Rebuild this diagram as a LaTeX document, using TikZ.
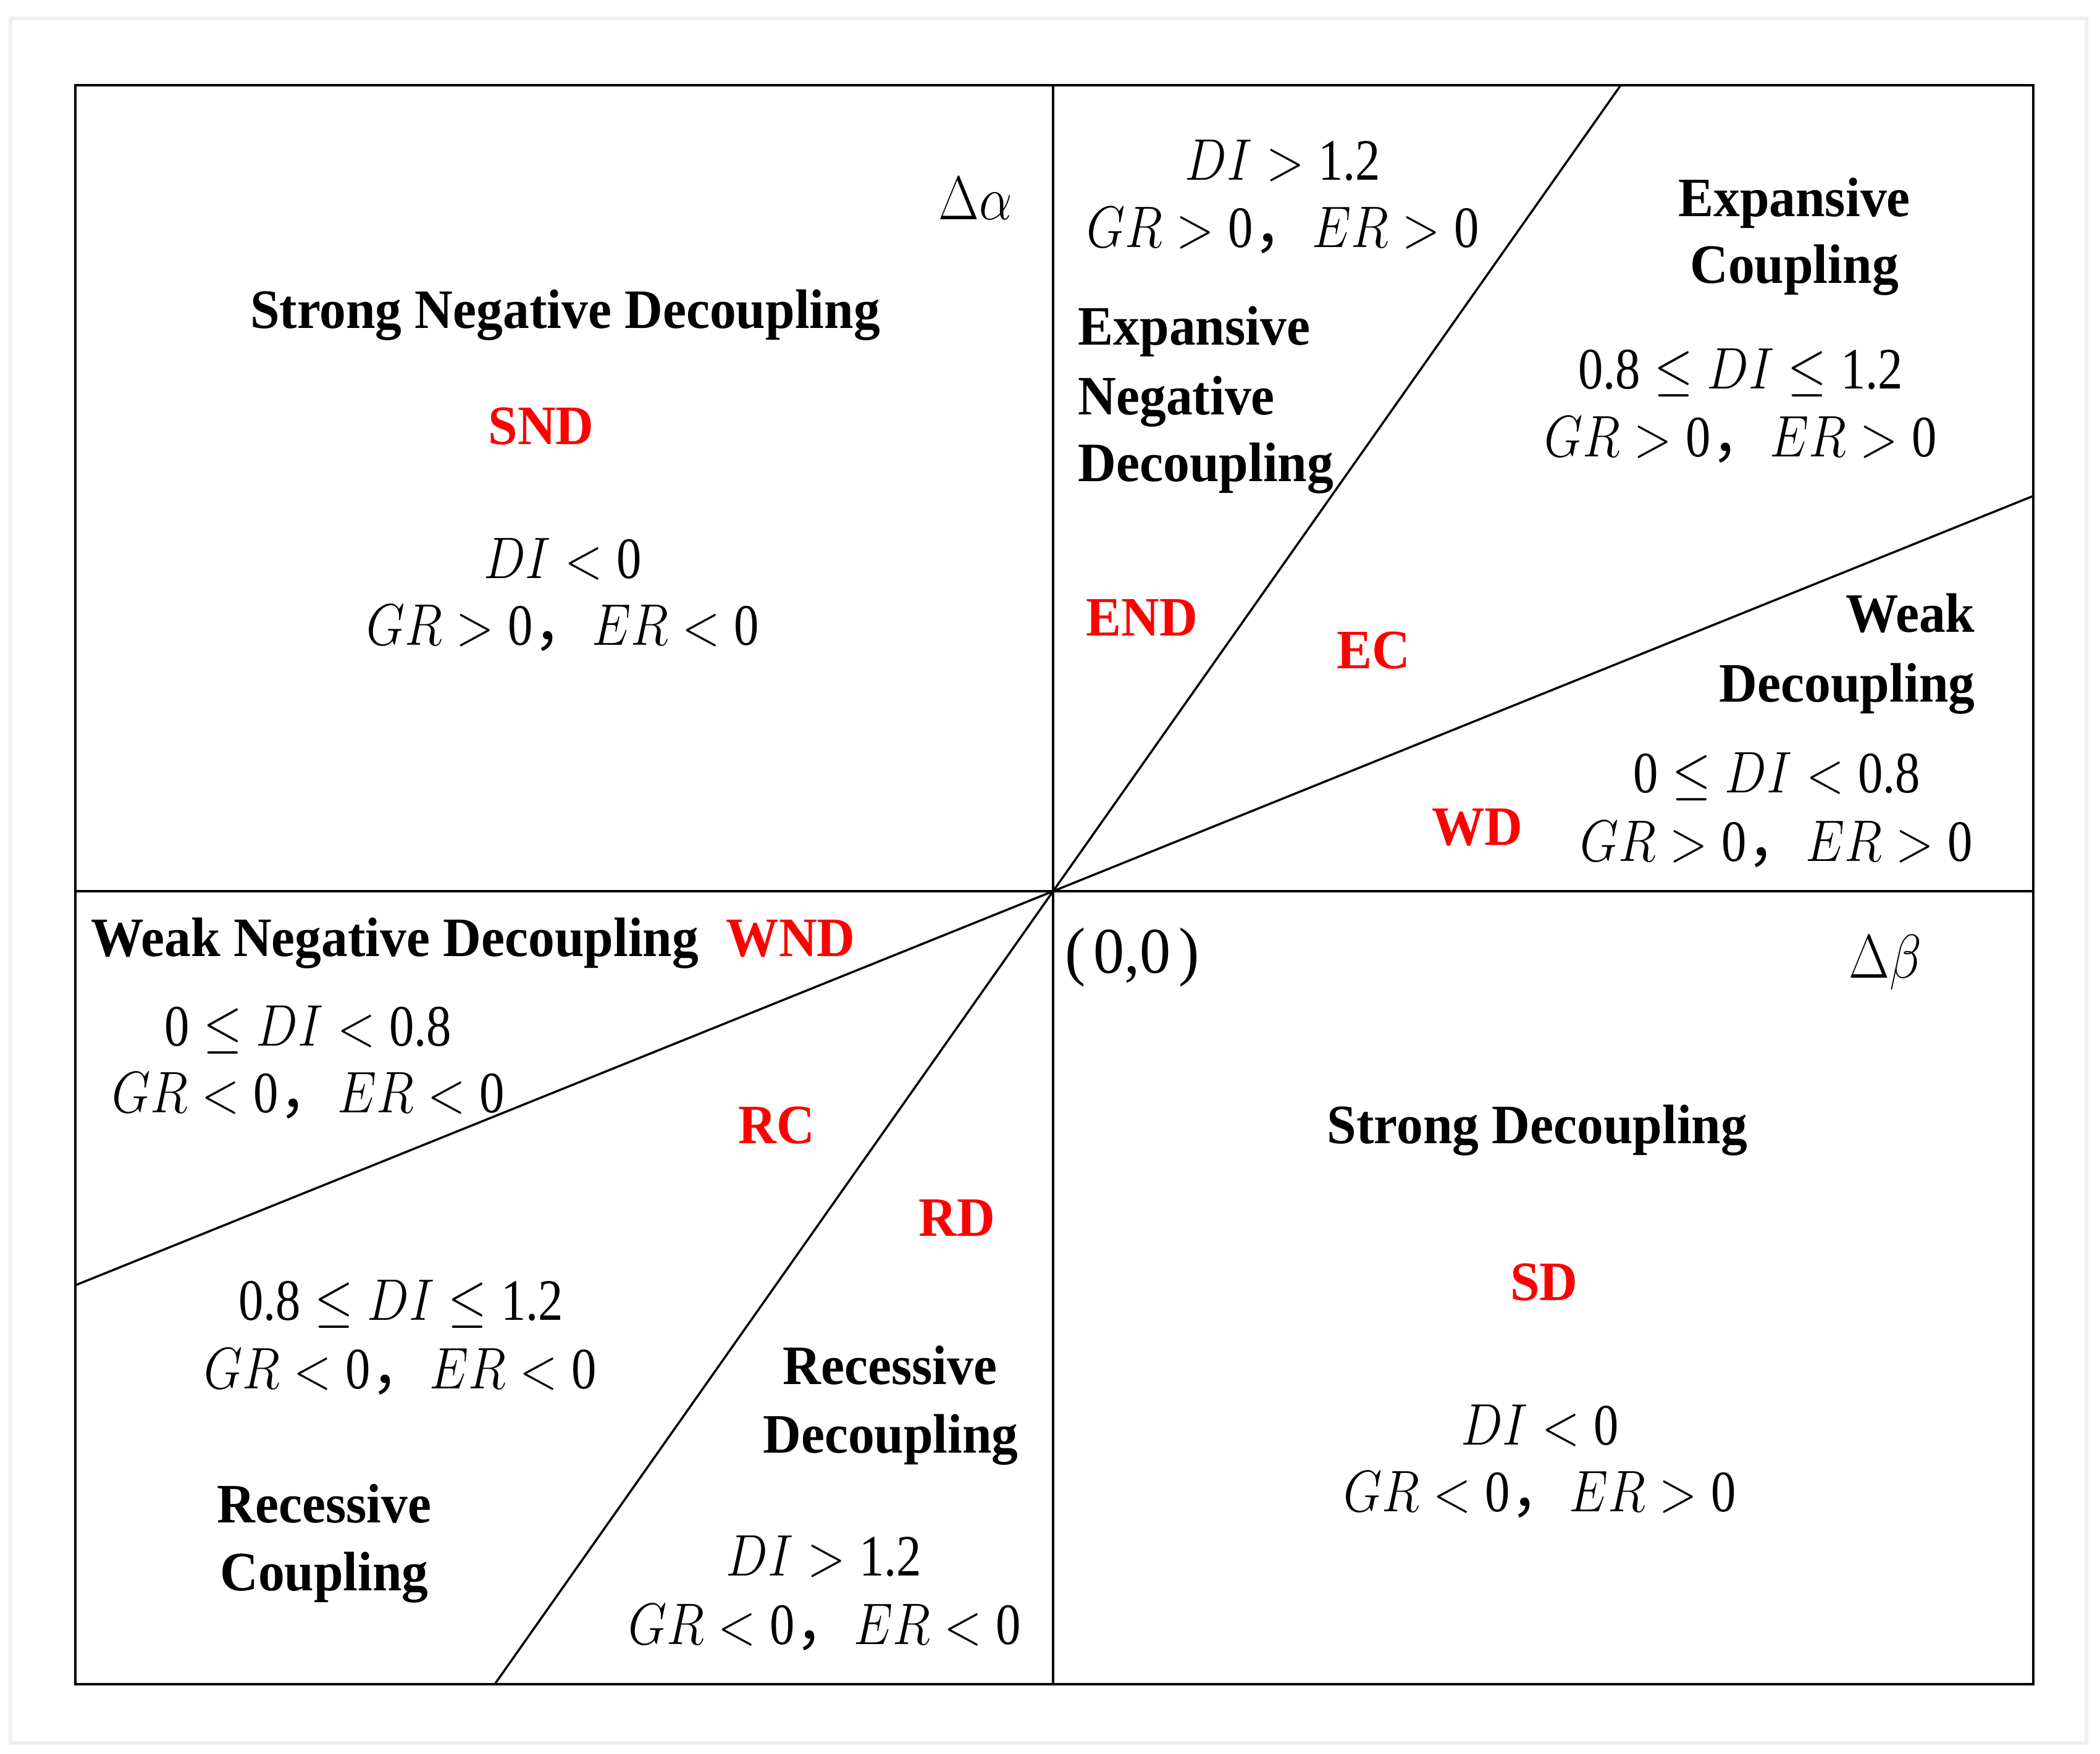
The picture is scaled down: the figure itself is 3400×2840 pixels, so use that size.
\RequirePackage{fix-cm}
\documentclass[tikz,border=0pt]{standalone}
\usepackage{graphicx}
\usepackage{fontspec}
\setmainfont{Liberation Serif}[FakeStretch=0.95]
\newfontfamily\cjk{Noto Sans CJK SC}
\newfontfamily\numfont{Liberation Serif}
\newcommand\nm[1]{\hbox{\numfont #1}}
\newcommand\mth[1]{\scalebox{0.85}[1]{$#1$}}
\newcommand\cnd[2]{\mth{#1}{\cjk ，}\mth{#2}}
\tikzset{
  outerframe/.style={draw=black!6, line width=0.06cm},
  mainbox/.style={draw=black, line width=0.045cm},
  divline/.style={draw=black, line width=0.035cm},
  zonelbl/.style={font=\bfseries\fontsize{25.6pt}{30pt}\selectfont, inner sep=0pt, anchor=base},
  redcode/.style={zonelbl, text=red},
  condtxt/.style={font=\fontsize{27pt}{32pt}\selectfont, inner sep=0pt, anchor=base},
  axlbl/.style={condtxt, font=\fontsize{28.5pt}{32pt}\selectfont},
}
\begin{document}
\begin{tikzpicture}[x=0.01cm,y=-0.01cm]
\useasboundingbox[fill=white] (0,0) rectangle (3400,2840);
\draw[outerframe] (17,30) rectangle (3378,2822);
% frame and dividing lines
\coordinate (tl) at (122,138);
\coordinate (br) at (3292,2727);
\coordinate (O) at (1705,1443);
\coordinate (vt) at (1705,138);
\coordinate (vb) at (1705,2727);
\coordinate (hl) at (122,1443);
\coordinate (hr) at (3292,1443);
\coordinate (st) at (2624,138);
\coordinate (sb) at (801,2727);
\coordinate (sr) at (3292,803);
\coordinate (sl) at (122,2081);
\draw[mainbox] (tl) rectangle (br);
\draw[divline] (vt) -- (vb);
\draw[divline] (hl) -- (hr);
\draw[divline] (st) -- (O) -- (sb);
\draw[divline] (sr) -- (O) -- (sl);
% axis labels
\node[axlbl] (alpha) at (1579,356) {\mth{\Delta\alpha}};
\node[axlbl] (beta) at (3052,1583) {\mth{\Delta\beta}};
\node[font=\fontsize{30pt}{32pt}\selectfont, inner sep=0pt, anchor=base] (orig) at (1833,1575) {(\kern0.12em0,0\kern0.12em)};
% SND
\node[zonelbl] (sndname) at (915,532) {Strong Negative Decoupling};
\node[redcode] (snd) at (876,719) {SND};
\node[condtxt] (snd1) at (911,936) {\mth{DI<\nm{0}}};
\node[condtxt] (snd2) at (911,1044) {\cnd{GR>\nm{0}}{ER<\nm{0}}};
% END
\node[condtxt] (end1) at (2077,292) {\mth{DI>\nm{1.2}}};
\node[condtxt] (end2) at (2077,401) {\cnd{GR>\nm{0}}{ER>\nm{0}}};
\node[zonelbl, anchor=base west] (endn1) at (1745,559) {Expansive};
\node[zonelbl, anchor=base west] (endn2) at (1745,672) {Negative};
\node[zonelbl, anchor=base west] (endn3) at (1745,780) {Decoupling};
\node[redcode] (endc) at (1849,1029) {END};
% EC
\node[zonelbl] (ecn1) at (2905,351) {Expansive};
\node[zonelbl] (ecn2) at (2905,459) {Coupling};
\node[condtxt] (ec1) at (2818,630) {\mth{\nm{0.8}\leq DI\leq \nm{1.2}}};
\node[condtxt] (ec2) at (2818,739) {\cnd{GR>\nm{0}}{ER>\nm{0}}};
\node[redcode] (ec) at (2224,1082) {EC};
% WD
\node[zonelbl, anchor=base east] (wdn1) at (3198,1023) {Weak};
\node[zonelbl, anchor=base east] (wdn2) at (3198,1136) {Decoupling};
\node[condtxt] (wd1) at (2877,1283) {\mth{\nm{0}\leq DI<\nm{0.8}}};
\node[condtxt] (wd2) at (2876,1394) {\cnd{GR>\nm{0}}{ER>\nm{0}}};
\node[redcode] (wd) at (2392,1368) {WD};
% WND
\node[zonelbl, anchor=base west] (wndn) at (147,1548) {Weak Negative Decoupling};
\node[redcode] (wnd) at (1280,1548) {WND};
\node[condtxt] (wnd1) at (499,1693) {\mth{\nm{0}\leq DI<\nm{0.8}}};
\node[condtxt] (wnd2) at (499,1801) {\cnd{GR<\nm{0}}{ER<\nm{0}}};
% RC
\node[redcode] (rc) at (1257,1851) {RC};
\node[condtxt] (rc1) at (649,2137) {\mth{\nm{0.8}\leq DI\leq \nm{1.2}}};
\node[condtxt] (rc2) at (648,2248) {\cnd{GR<\nm{0}}{ER<\nm{0}}};
\node[zonelbl] (rcn1) at (525,2465) {Recessive};
\node[zonelbl] (rcn2) at (525,2575) {Coupling};
% RD
\node[redcode] (rd) at (1549,2001) {RD};
\node[zonelbl] (rdn1) at (1441,2241) {Recessive};
\node[zonelbl] (rdn2) at (1442,2352) {Decoupling};
\node[condtxt] (rd1) at (1334,2551) {\mth{DI>\nm{1.2}}};
\node[condtxt] (rd2) at (1335,2662) {\cnd{GR<\nm{0}}{ER<\nm{0}}};
% SD
\node[zonelbl] (sdn) at (2489,1851) {Strong Decoupling};
\node[redcode] (sd) at (2500,2105) {SD};
\node[condtxt] (sd1) at (2493,2339) {\mth{DI<\nm{0}}};
\node[condtxt] (sd2) at (2493,2447) {\cnd{GR<\nm{0}}{ER>\nm{0}}};
\end{tikzpicture}
\end{document}
